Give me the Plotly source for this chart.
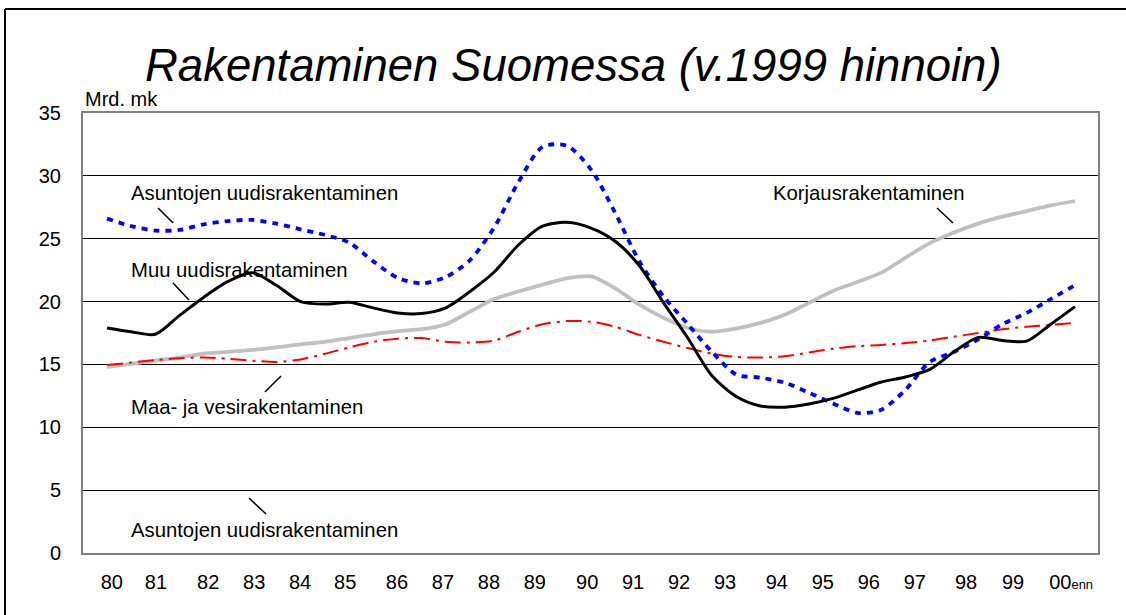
import plotly.graph_objects as go

# ---- data (x in year units along the chart's time axis) ----
x_years = [1980.0, 1980.5, 1981.0, 1981.5, 1982.0, 1982.5, 1983.0, 1983.5, 1984.0, 1984.5,
           1985.0, 1985.5, 1986.0, 1986.5, 1987.0, 1987.5, 1988.0, 1988.5, 1989.0, 1989.5,
           1990.0, 1990.5, 1991.0, 1991.5, 1992.0, 1992.5, 1993.0, 1993.5, 1994.0, 1994.5,
           1995.0, 1995.5, 1996.0, 1996.5, 1997.0, 1997.5, 1998.0, 1998.5, 1999.0, 1999.5,
           2000.0]

asuntojen = [26.6, 26.0, 25.65, 25.7, 26.15, 26.4, 26.5, 26.2, 25.75, 25.3,
             24.7, 23.2, 21.9, 21.45, 21.95, 23.3, 25.9, 29.5, 32.3, 32.4,
             30.5, 27.05, 23.2, 20.4, 18.2, 16.0, 14.2, 13.95, 13.55, 12.75,
             11.9, 11.15, 11.4, 13.0, 15.2, 16.0, 17.0, 18.2, 19.1, 20.2,
             21.3]

muu = [17.9, 17.6, 17.4, 18.9, 20.35, 21.6, 22.3, 21.3, 20.0, 19.8,
       19.95, 19.5, 19.1, 19.05, 19.5, 20.8, 22.35, 24.5, 26.0, 26.3,
       25.85, 24.8, 22.85, 19.9, 17.1, 14.1, 12.45, 11.7, 11.6, 11.85,
       12.3, 12.95, 13.6, 14.0, 14.6, 16.0, 17.15, 16.9, 16.85, 18.2,
       19.6]

korjaus = [14.8, 15.05, 15.3, 15.55, 15.85, 16.0, 16.15, 16.35, 16.6, 16.8,
           17.1, 17.4, 17.65, 17.8, 18.2, 19.2, 20.2, 20.8, 21.35, 21.85,
           22.0, 21.05, 19.75, 18.7, 17.9, 17.6, 17.85, 18.3, 18.95, 19.9,
           20.85, 21.55, 22.3, 23.5, 24.65, 25.5, 26.2, 26.75, 27.2, 27.65,
           28.0]

maa_vesi = [14.95, 15.15, 15.35, 15.5, 15.55, 15.45, 15.3, 15.2, 15.4, 15.85,
            16.35, 16.8, 17.05, 17.1, 16.8, 16.75, 16.9, 17.6, 18.2, 18.45,
            18.4, 18.0, 17.35, 16.8, 16.3, 15.85, 15.6, 15.55, 15.65, 15.95,
            16.25, 16.45, 16.55, 16.7, 16.9, 17.2, 17.5, 17.8, 18.0, 18.15,
            18.3]

tick_labels = ["80", "81", "82", "83", "84", "85", "86", "87", "88", "89", "90",
               "91", "92", "93", "94", "95", "96", "97", "98", "99",
               "00<span style='font-size:13px'>enn</span>"]
tick_positions = [1980.10, 1981.01, 1982.09, 1983.04, 1983.99, 1984.92, 1985.99, 1986.94,
                  1987.89, 1988.84, 1989.92, 1990.87, 1991.82, 1992.77, 1993.84, 1994.79,
                  1995.74, 1996.69, 1997.75, 1998.72, 1999.92]

FONT = "Liberation Sans, Arial, sans-serif"

fig = go.Figure()

fig.add_trace(go.Scatter(x=x_years, y=korjaus, mode="lines", name="Korjausrakentaminen",
                         line=dict(color="#C0C0C0", width=3.8, shape="spline", smoothing=0.8)))
fig.add_trace(go.Scatter(x=x_years, y=maa_vesi, mode="lines", name="Maa- ja vesirakentaminen",
                         line=dict(color="#FF0000", width=2, dash="16px,6px,3px,6px",
                                   shape="spline", smoothing=0.8)))
fig.add_trace(go.Scatter(x=x_years, y=asuntojen, mode="lines", name="Asuntojen uudisrakentaminen",
                         line=dict(color="#0000FF", width=3.8, dash="6px,6px",
                                   shape="spline", smoothing=0.8)))
fig.add_trace(go.Scatter(x=x_years, y=muu, mode="lines", name="Muu uudisrakentaminen",
                         line=dict(color="#000000", width=3, shape="spline", smoothing=0.8)))

# series labels
labels = [
    ("Asuntojen uudisrakentaminen", 1980.45, 28.64),
    ("Muu uudisrakentaminen", 1980.45, 22.51),
    ("Korjausrakentaminen", 1993.72, 28.64),
    ("Maa- ja vesirakentaminen", 1980.45, 11.61),
    ("Asuntojen uudisrakentaminen", 1980.45, 1.83),
]
for txt, lx, ly in labels:
    fig.add_annotation(x=lx, y=ly, xref="x", yref="y", text=txt, showarrow=False,
                       xanchor="left", yanchor="middle",
                       font=dict(family=FONT, size=20.3, color="#000"))

# leader lines
leaders = [
    (1981.054, 27.44, 1981.364, 26.25),
    (1981.364, 21.48, 1981.694, 20.13),
    (1997.149, 27.44, 1997.479, 26.25),
    (1983.264, 12.81, 1983.595, 14.08),
    (1982.934, 4.375, 1983.285, 3.10),
]
for x0, y0, x1, y1 in leaders:
    fig.add_shape(type="line", xref="x", yref="y", x0=x0, y0=y0, x1=x1, y1=y1,
                  line=dict(color="#000", width=1.5))

# title and unit
fig.add_annotation(x=0.4828, y=1.107, xref="paper", yref="paper",
                   text="<i>Rakentaminen Suomessa (v.1999 hinnoin)</i>", showarrow=False,
                   xanchor="center", yanchor="middle",
                   font=dict(family=FONT, size=45.5, color="#000"))
fig.add_annotation(x=0.0, y=1.032, xref="paper", yref="paper", text="Mrd. mk",
                   showarrow=False, xanchor="left", yanchor="middle",
                   font=dict(family=FONT, size=20, color="#000"))

# outer frame (top and left edges)
fig.add_shape(type="line", xref="paper", yref="paper",
              x0=(5 - 83) / 1015, y0=(553 - 9) / 440, x1=(1130 - 83) / 1015, y1=(553 - 9) / 440,
              line=dict(color="#000", width=2))
fig.add_shape(type="line", xref="paper", yref="paper",
              x0=(5 - 83) / 1015, y0=(553 - 9) / 440, x1=(5 - 83) / 1015, y1=(553 - 620) / 440,
              line=dict(color="#000", width=2))

fig.update_layout(
    width=1126, height=615,
    margin=dict(l=83, r=28, t=113, b=62),
    paper_bgcolor="white", plot_bgcolor="white",
    showlegend=False,
    font=dict(family=FONT, size=20, color="#000"),
)
fig.update_xaxes(range=[1979.504, 2000.475], tickvals=tick_positions, ticktext=tick_labels,
                 showgrid=False, zeroline=False, showline=True, linecolor="#808080",
                 linewidth=2, mirror=True, ticks="", ticklabelstandoff=10,
                 tickfont=dict(family=FONT, size=20, color="#000"))
fig.update_yaxes(range=[0, 35], dtick=5, tick0=0, showgrid=True, gridcolor="#000",
                 gridwidth=1, zeroline=False, showline=True, linecolor="#808080",
                 linewidth=2, mirror=True, ticks="", ticklabelstandoff=16,
                 tickfont=dict(family=FONT, size=20, color="#000"))

fig.write_html("out.html", config={"displayModeBar": False},
               post_script="document.body.style.margin='0';")
